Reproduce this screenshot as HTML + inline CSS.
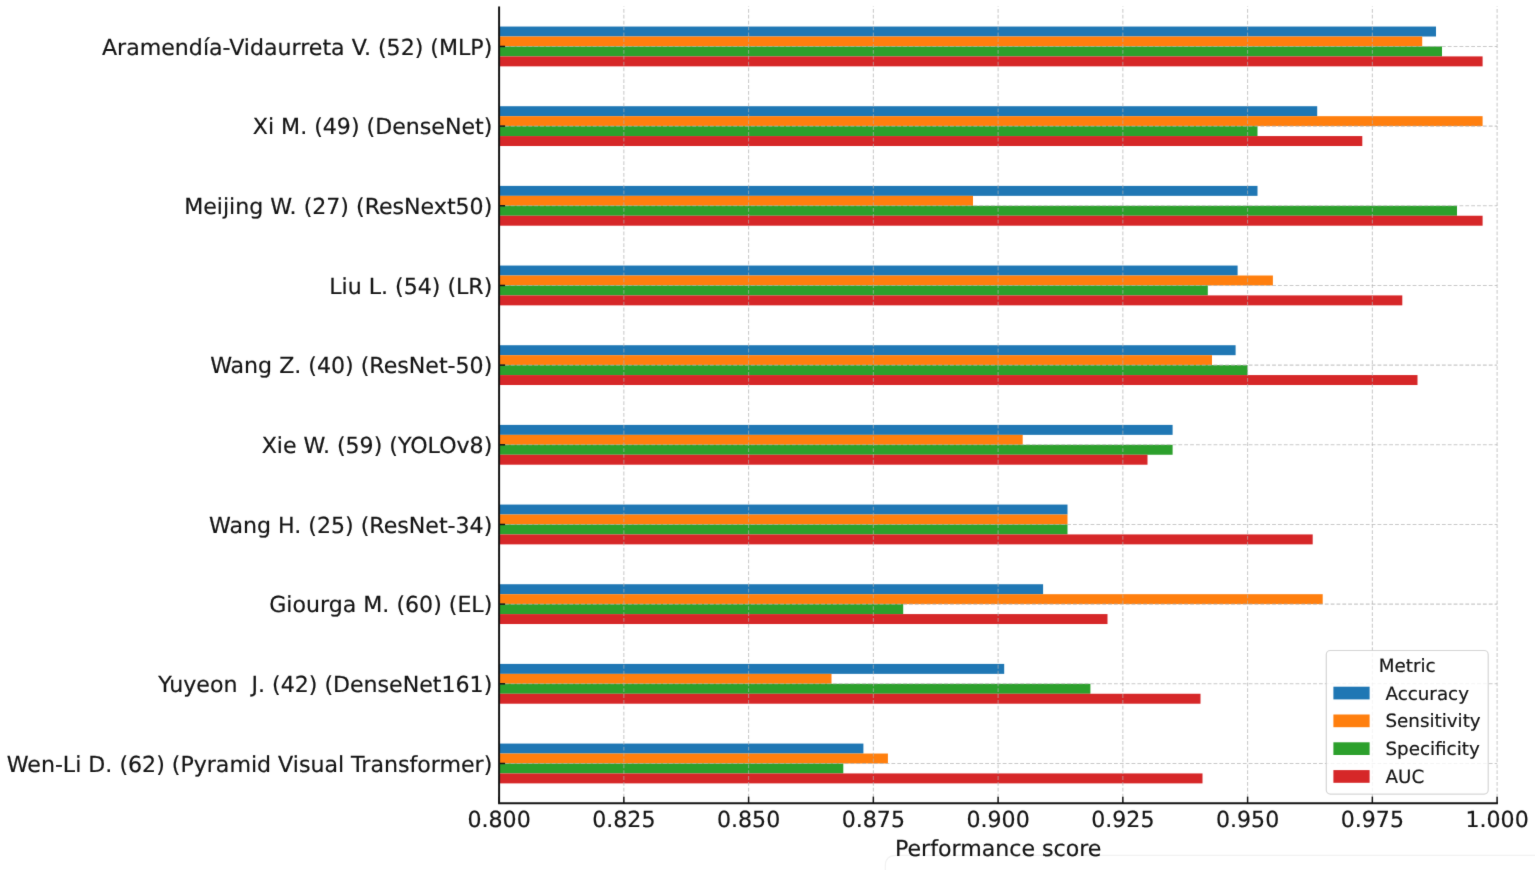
<!DOCTYPE html>
<html lang="en"><head><meta charset="utf-8"><title>Performance score by study</title>
<style>
html,body{margin:0;padding:0;background:#fff;}
body{width:1535px;height:870px;overflow:hidden;}
svg{display:block;}
text{font-family:"DejaVu Sans","Liberation Sans",sans-serif;fill:#151515;stroke:#151515;stroke-width:0.2px;white-space:pre;text-rendering:geometricPrecision;}
.t{font-size:22.1px;}
.l{font-size:18.3px;}
</style></head><body>
<svg width="1535" height="870" viewBox="0 0 1535 870">
<defs><filter id="soft" x="0" y="0" width="100%" height="100%" filterUnits="objectBoundingBox" color-interpolation-filters="sRGB"><feConvolveMatrix order="3" kernelMatrix="0.012 0.065 0.012 0.065 0.692 0.065 0.012 0.065 0.012" divisor="1" edgeMode="duplicate" preserveAlpha="true"/></filter></defs>
<g filter="url(#soft)">
<rect width="1535" height="870" fill="#ffffff"/>
<path d="M885.3 870 L885.3 866 Q885.3 855.4 896 855.4 L1535 855.4" fill="none" stroke="#f2f2f2" stroke-width="1.2"/>
<g shape-rendering="auto">
<rect x="499.10" y="26.55" width="936.90" height="9.95" fill="#1f77b4"/>
<rect x="499.10" y="36.50" width="923.10" height="9.95" fill="#ff7f0e"/>
<rect x="499.10" y="46.45" width="942.90" height="9.95" fill="#2ca02c"/>
<rect x="499.10" y="56.40" width="983.50" height="9.95" fill="#d62728"/>
<rect x="499.10" y="106.22" width="818.10" height="9.95" fill="#1f77b4"/>
<rect x="499.10" y="116.17" width="983.50" height="9.95" fill="#ff7f0e"/>
<rect x="499.10" y="126.12" width="758.40" height="9.95" fill="#2ca02c"/>
<rect x="499.10" y="136.07" width="863.20" height="9.95" fill="#d62728"/>
<rect x="499.10" y="185.89" width="758.40" height="9.95" fill="#1f77b4"/>
<rect x="499.10" y="195.84" width="473.90" height="9.95" fill="#ff7f0e"/>
<rect x="499.10" y="205.79" width="957.90" height="9.95" fill="#2ca02c"/>
<rect x="499.10" y="215.74" width="983.50" height="9.95" fill="#d62728"/>
<rect x="499.10" y="265.56" width="738.50" height="9.95" fill="#1f77b4"/>
<rect x="499.10" y="275.51" width="773.80" height="9.95" fill="#ff7f0e"/>
<rect x="499.10" y="285.46" width="708.70" height="9.95" fill="#2ca02c"/>
<rect x="499.10" y="295.41" width="903.20" height="9.95" fill="#d62728"/>
<rect x="499.10" y="345.23" width="736.50" height="9.95" fill="#1f77b4"/>
<rect x="499.10" y="355.18" width="712.90" height="9.95" fill="#ff7f0e"/>
<rect x="499.10" y="365.13" width="748.50" height="9.95" fill="#2ca02c"/>
<rect x="499.10" y="375.08" width="918.40" height="9.95" fill="#d62728"/>
<rect x="499.10" y="424.90" width="673.50" height="9.95" fill="#1f77b4"/>
<rect x="499.10" y="434.85" width="523.60" height="9.95" fill="#ff7f0e"/>
<rect x="499.10" y="444.80" width="673.50" height="9.95" fill="#2ca02c"/>
<rect x="499.10" y="454.75" width="648.40" height="9.95" fill="#d62728"/>
<rect x="499.10" y="504.57" width="568.40" height="9.95" fill="#1f77b4"/>
<rect x="499.10" y="514.52" width="568.40" height="9.95" fill="#ff7f0e"/>
<rect x="499.10" y="524.47" width="568.40" height="9.95" fill="#2ca02c"/>
<rect x="499.10" y="534.42" width="813.60" height="9.95" fill="#d62728"/>
<rect x="499.10" y="584.24" width="544.00" height="9.95" fill="#1f77b4"/>
<rect x="499.10" y="594.19" width="823.60" height="9.95" fill="#ff7f0e"/>
<rect x="499.10" y="604.14" width="404.10" height="9.95" fill="#2ca02c"/>
<rect x="499.10" y="614.09" width="608.40" height="9.95" fill="#d62728"/>
<rect x="499.10" y="663.91" width="505.10" height="9.95" fill="#1f77b4"/>
<rect x="499.10" y="673.86" width="332.40" height="9.95" fill="#ff7f0e"/>
<rect x="499.10" y="683.81" width="591.30" height="9.95" fill="#2ca02c"/>
<rect x="499.10" y="693.76" width="701.40" height="9.95" fill="#d62728"/>
<rect x="499.10" y="743.58" width="364.30" height="9.95" fill="#1f77b4"/>
<rect x="499.10" y="753.53" width="388.80" height="9.95" fill="#ff7f0e"/>
<rect x="499.10" y="763.48" width="344.20" height="9.95" fill="#2ca02c"/>
<rect x="499.10" y="773.43" width="703.40" height="9.95" fill="#d62728"/>
</g>
<g stroke="#b0b0b0" stroke-opacity="0.68" stroke-width="1.05" stroke-dasharray="3.8 2.056" fill="none">
<line x1="499.10" y1="803.32" x2="499.10" y2="6.62"/>
<line x1="623.85" y1="803.32" x2="623.85" y2="6.62"/>
<line x1="748.60" y1="803.32" x2="748.60" y2="6.62"/>
<line x1="873.35" y1="803.32" x2="873.35" y2="6.62"/>
<line x1="998.10" y1="803.32" x2="998.10" y2="6.62"/>
<line x1="1122.85" y1="803.32" x2="1122.85" y2="6.62"/>
<line x1="1247.60" y1="803.32" x2="1247.60" y2="6.62"/>
<line x1="1372.35" y1="803.32" x2="1372.35" y2="6.62"/>
<line x1="1497.10" y1="803.32" x2="1497.10" y2="6.62"/>
<line x1="499.10" y1="46.45" x2="1497.10" y2="46.45"/>
<line x1="499.10" y1="126.12" x2="1497.10" y2="126.12"/>
<line x1="499.10" y1="205.79" x2="1497.10" y2="205.79"/>
<line x1="499.10" y1="285.46" x2="1497.10" y2="285.46"/>
<line x1="499.10" y1="365.13" x2="1497.10" y2="365.13"/>
<line x1="499.10" y1="444.80" x2="1497.10" y2="444.80"/>
<line x1="499.10" y1="524.47" x2="1497.10" y2="524.47"/>
<line x1="499.10" y1="604.14" x2="1497.10" y2="604.14"/>
<line x1="499.10" y1="683.81" x2="1497.10" y2="683.81"/>
<line x1="499.10" y1="763.48" x2="1497.10" y2="763.48"/>
</g>
<g stroke="#151515" stroke-width="1.5" fill="none">
<line x1="499.10" y1="803.25" x2="499.10" y2="796.65"/>
<line x1="623.85" y1="803.25" x2="623.85" y2="796.65"/>
<line x1="748.60" y1="803.25" x2="748.60" y2="796.65"/>
<line x1="873.35" y1="803.25" x2="873.35" y2="796.65"/>
<line x1="998.10" y1="803.25" x2="998.10" y2="796.65"/>
<line x1="1122.85" y1="803.25" x2="1122.85" y2="796.65"/>
<line x1="1247.60" y1="803.25" x2="1247.60" y2="796.65"/>
<line x1="1372.35" y1="803.25" x2="1372.35" y2="796.65"/>
<line x1="1497.10" y1="803.25" x2="1497.10" y2="796.65"/>
<line x1="499.10" y1="46.45" x2="505.10" y2="46.45"/>
<line x1="499.10" y1="126.12" x2="505.10" y2="126.12"/>
<line x1="499.10" y1="205.79" x2="505.10" y2="205.79"/>
<line x1="499.10" y1="285.46" x2="505.10" y2="285.46"/>
<line x1="499.10" y1="365.13" x2="505.10" y2="365.13"/>
<line x1="499.10" y1="444.80" x2="505.10" y2="444.80"/>
<line x1="499.10" y1="524.47" x2="505.10" y2="524.47"/>
<line x1="499.10" y1="604.14" x2="505.10" y2="604.14"/>
<line x1="499.10" y1="683.81" x2="505.10" y2="683.81"/>
<line x1="499.10" y1="763.48" x2="505.10" y2="763.48"/>
</g>
<path d="M499.10 6.62 L499.10 803.25 L1497.90 803.25" stroke="#151515" stroke-width="2.0" fill="none" stroke-linejoin="miter"/>
<g class="t" text-anchor="end">
<text x="492.30" y="54.75">Aramendía-Vidaurreta V. (52) (MLP)</text>
<text x="492.30" y="134.42">Xi M. (49) (DenseNet)</text>
<text x="492.30" y="214.09">Meijing W. (27) (ResNext50)</text>
<text x="492.30" y="293.76">Liu L. (54) (LR)</text>
<text x="492.30" y="373.43">Wang Z. (40) (ResNet-50)</text>
<text x="492.30" y="453.10">Xie W. (59) (YOLOv8)</text>
<text x="492.30" y="532.77">Wang H. (25) (ResNet-34)</text>
<text x="492.30" y="612.44">Giourga M. (60) (EL)</text>
<text x="492.30" y="692.11">Yuyeon  J. (42) (DenseNet161)</text>
<text x="492.30" y="771.78">Wen-Li D. (62) (Pyramid Visual Transformer)</text>
</g>
<g class="t" text-anchor="middle">
<text x="499.10" y="826.80">0.800</text>
<text x="623.85" y="826.80">0.825</text>
<text x="748.60" y="826.80">0.850</text>
<text x="873.35" y="826.80">0.875</text>
<text x="998.10" y="826.80">0.900</text>
<text x="1122.85" y="826.80">0.925</text>
<text x="1247.60" y="826.80">0.950</text>
<text x="1372.35" y="826.80">0.975</text>
<text x="1497.10" y="826.80">1.000</text>
<text x="998.20" y="855.60">Performance score</text>
</g>
<rect x="1326.30" y="650.50" width="161.90" height="143.60" rx="4" ry="4" fill="#ffffff" fill-opacity="0.8" stroke="#cccccc" stroke-opacity="0.8" stroke-width="1.2"/>
<g class="l">
<text x="1407.25" y="672.20" text-anchor="middle">Metric</text>
<rect x="1333.40" y="686.70" width="36.20" height="12.70" fill="#1f77b4"/>
<text x="1385.50" y="700.00">Accuracy</text>
<rect x="1333.40" y="714.50" width="36.20" height="12.70" fill="#ff7f0e"/>
<text x="1385.50" y="727.00">Sensitivity</text>
<rect x="1333.40" y="742.30" width="36.20" height="12.70" fill="#2ca02c"/>
<text x="1385.50" y="755.00">Specificity</text>
<rect x="1333.40" y="770.10" width="36.20" height="12.70" fill="#d62728"/>
<text x="1385.50" y="783.00">AUC</text>
</g>
</g>
</svg>
</body></html>
